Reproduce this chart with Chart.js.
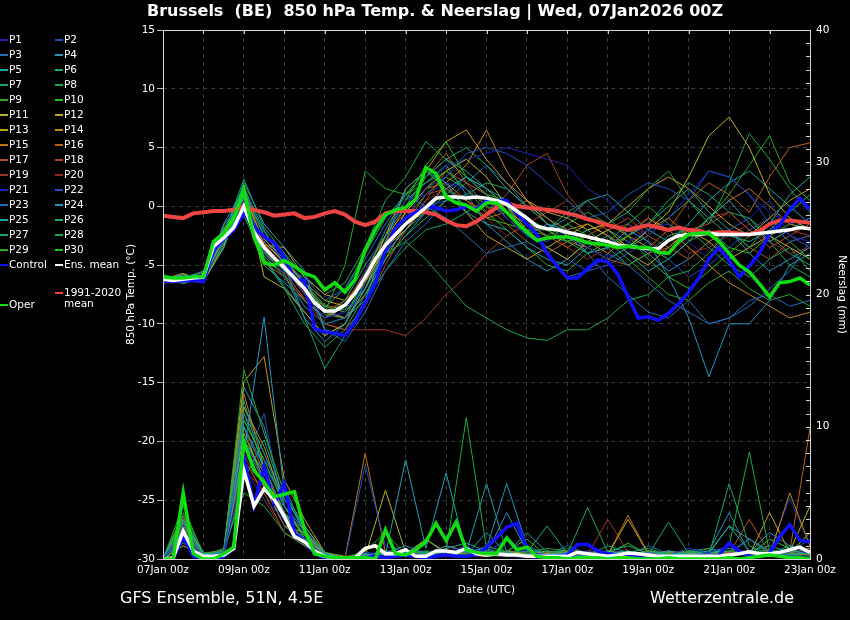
<!DOCTYPE html>
<html>
<head>
<meta charset="utf-8">
<title>Brussels 850 hPa Temp. & Neerslag</title>
<script src="https://cdn.jsdelivr.net/npm/chart.js@4.4.1/dist/chart.umd.min.js"></script>
<style>
  html, body { margin: 0; padding: 0; background: #000; }
  #wrap { position: relative; width: 850px; height: 620px; overflow: hidden; background: #000;
          font-family: 'DejaVu Sans', sans-serif; color: #fff; }
  #chart { position: absolute; left: 0; top: 0; }
  .txt { position: absolute; white-space: pre; line-height: 1; }
  #title { left: 147px; top: 3px; font-size: 16px; font-weight: bold; }
  #srcL { left: 120px; top: 590px; font-size: 16px; }
  #srcR { left: 650px; top: 590px; font-size: 16px; }
  .lg { position: absolute; font-size: 10.5px; line-height: 1; white-space: pre; }
  .lg i { position: absolute; left: -9px; top: 5px; width: 8px; height: 2px; }
</style>
</head>
<body>
<div id="wrap">
  <canvas id="chart" width="850" height="620"></canvas>
  <div id="title" class="txt">Brussels  (BE)  850 hPa Temp. &amp; Neerslag | Wed, 07Jan2026 00Z</div>
  <div id="srcL" class="txt">GFS Ensemble, 51N, 4.5E</div>
  <div id="srcR" class="txt">Wetterzentrale.de</div>
  <div id="legend"></div>
</div>
<script>
// forecast hours (x axis), 6-hourly for the bold lines, 12-hourly for the members
const hours6 = [];
for (let h = 0; h <= 384; h += 6) hours6.push(h);
const hours12 = [];
for (let h = 0; h <= 384; h += 12) hours12.push(h);

// 850 hPa temperature (°C), one row = 48 h
const ensMean = [
  -6.2,-6.3,-6.2,-6.1,-6.0,-3.4,-2.7,-1.8,
   0.0,-2.2,-3.5,-4.4,-5.2,-6.1,-7.0,-8.2,
  -8.9,-8.9,-8.4,-7.4,-6.0,-4.5,-3.3,-2.4,
  -1.5,-0.8,-0.1, 0.7, 0.8, 0.8, 0.7, 0.8,
   0.7, 0.5, 0.2,-0.4,-1.0,-1.7,-1.9,-2.0,
  -2.2,-2.4,-2.6,-2.8,-3.0,-3.3,-3.4,-3.5,
  -3.6,-3.6,-2.9,-2.5,-2.4,-2.4,-2.3,-2.4,
  -2.4,-2.4,-2.4,-2.3,-2.2,-2.1,-2.0,-1.8,
  -1.9];
const oper = [
  -6.0,-6.1,-6.1,-6.0,-6.0,-3.0,-2.3,-1.0,
   1.4,-2.6,-4.8,-5.0,-4.6,-5.1,-5.7,-6.0,
  -7.1,-6.5,-7.3,-6.2,-3.7,-2.0,-0.7,-0.3,
  -0.1, 0.6, 3.3, 2.8, 0.8, 0.3, 0.1,-0.4,
   0.3, 0.3,-0.5,-1.4,-2.2,-2.9,-2.7,-2.6,
  -2.6,-2.8,-3.1,-3.2,-3.3,-3.5,-3.4,-3.5,
  -3.5,-3.9,-4.0,-3.0,-2.4,-2.3,-2.3,-3.0,
  -4.0,-5.0,-5.6,-6.6,-7.7,-6.5,-6.4,-6.1,
  -6.7];
const control = [
  -6.4,-6.4,-6.3,-6.3,-6.4,-3.7,-2.8,-2.0,
  -0.6,-1.7,-2.6,-3.1,-4.3,-6.2,-6.3,-10.4,
  -10.7,-10.8,-11.0,-9.8,-8.2,-6.6,-3.7,-1.8,
  -1.0,-0.5, 0.0,-0.1,-0.4,-0.3, 0.0,-0.3,
   0.5, 0.5, 0.5,-0.6,-1.5,-2.4,-4.0,-5.1,
  -6.1,-6.1,-5.3,-4.6,-4.7,-5.8,-7.7,-9.5,
  -9.4,-9.7,-9.1,-8.3,-7.3,-6.1,-4.5,-3.5,
  -4.6,-6.0,-5.1,-4.0,-2.3,-1.6,-0.3, 0.7,
  -0.3];
const clim = [
  -0.8,-0.9,-1.0,-0.6,-0.5,-0.4,-0.4,-0.3,
   0.0,-0.3,-0.5,-0.8,-0.7,-0.6,-1.0,-0.9,
  -0.6,-0.4,-0.7,-1.3,-1.6,-1.3,-0.6,-0.4,
  -0.4,-0.4,-0.5,-0.7,-1.2,-1.6,-1.7,-1.3,
  -0.7,-0.1, 0.3, 0.0,-0.1,-0.2,-0.3,-0.4,
  -0.6,-0.8,-1.1,-1.3,-1.6,-1.8,-2.0,-1.8,
  -1.6,-1.8,-2.0,-1.8,-2.0,-2.1,-2.3,-2.2,
  -2.2,-2.3,-2.4,-2.1,-1.5,-1.2,-1.2,-1.3,
  -1.4];

// precipitation (mm / 6 h)
const ensMeanRain = [
  0,0.1,2.1,0.6,0.2,0.2,0.3,0.8,
  6.7,4.0,5.3,4.5,3.2,1.7,1.3,0.6,
  0.2,0.1,0.1,0.1,0.8,1.0,0.4,0.4,
  0.7,0.2,0.2,0.6,0.6,0.5,0.8,0.4,
  0.3,0.4,0.3,0.3,0.2,0.2,0.2,0.2,
  0.2,0.5,0.4,0.3,0.2,0.3,0.45,0.4,
  0.3,0.2,0.2,0.2,0.2,0.2,0.2,0.2,
  0.3,0.4,0.55,0.4,0.4,0.5,0.7,0.9,
  0.5];
const operRain = [
  0,0,5.0,0.4,0,0,0.4,0.9,
  8.9,6.7,5.8,4.7,4.9,5.1,2.2,0.4,
  0.2,0.1,0.1,0.1,0.1,0,2.2,0.4,
  0.3,0.7,1.3,2.7,1.4,2.8,0.7,0.5,
  0.4,0.4,1.6,0.7,0.9,0.2,0.1,0.1,
  0,0.1,0.1,0.1,0,0.1,0.1,0,
  0,0,0.1,0,0,0,0,0,
  0.1,0,0.1,0.2,0.3,0.2,0.1,0.1,
  0];
const controlRain = [
  0,0,1.7,0.2,0,0,0.2,0.8,
  7.7,4.0,7.0,4.2,5.7,1.9,1.4,0.4,
  0.1,0,0,0,0.1,0.2,0.1,0.2,
  0.3,0.2,0.1,0.2,0.3,0.2,0.2,0.3,
  0.9,1.6,2.4,2.7,0.8,0.3,0.2,0.2,
  0.3,1.1,1.1,0.6,0.4,0.3,0.3,0.1,
  0,0,0,0,0,0,0.1,0.3,
  1.2,0.6,0.2,0.2,0.4,1.7,2.6,1.4,
  1.3];

// members P1..P30, 12-hourly: h0-120 | h132-252 | h264-384
const memberTemp = [
  [-6.3,-6.0,-5.8,-2.5,0.5,-3.0,-4.5,-7.5,-9.5,-9.0,-5.5, -2.0,0.5,1.0,2.0,1.5,0.5,-1.0,-2.5,-3.0,-2.0,-3.5, -4.5,-3.0,-2.0,-1.5,-3.0,-4.5,-2.0,-1.0,0.5,-2.5,-3.0],
  [-6.5,-6.4,-6.2,-3.0,1.0,-4.0,-6.0,-8.5,-10.0,-9.5,-6.5, -4.0,-1.0,1.5,2.5,4.5,5.0,4.5,3.5,2.0,0.5,-1.0, -0.5,1.0,2.0,1.5,0.5,3.0,2.5,1.0,-1.5,-3.0,-2.5],
  [-6.0,-6.6,-6.0,-2.0,-0.5,-3.5,-5.5,-6.0,-8.0,-7.0,-4.5, -1.5,1.0,0.0,-1.0,-2.5,-4.0,-3.5,-3.0,-4.0,-6.0,-5.5, -4.0,-5.0,-6.5,-8.0,-9.0,-10.0,-9.5,-8.0,-7.5,-8.5,-8.0],
  [-6.2,-5.8,-6.5,-1.5,1.5,-2.0,-5.0,-9.5,-11.5,-10.0,-7.0, -4.0,-2.0,-0.5,1.5,2.5,1.0,-1.0,-2.5,-1.5,-2.5,-4.0, -3.5,-2.0,-3.0,-6.0,-9.5,-14.5,-10.0,-10.0,-8.0,-5.0,-4.0],
  [-6.4,-6.1,-5.5,-2.8,2.0,-1.5,-3.5,-5.5,-10.5,-11.0,-8.0, -3.0,1.5,3.0,2.0,-0.5,-1.5,-2.0,-3.5,-4.5,-5.0,-3.5, -2.5,-4.0,-5.5,-4.5,-3.0,-1.0,0.5,-1.5,-3.0,-2.0,-1.0],
  [-5.8,-6.3,-5.9,-3.5,0.8,-5.0,-6.5,-8.0,-9.5,-8.0,-5.0, -2.5,0.0,2.5,4.0,3.0,1.5,0.0,-1.5,-2.0,-0.5,0.5, -1.0,-2.5,-1.5,0.0,1.5,-0.5,-2.0,-3.5,-1.5,1.0,2.5],
  [-6.1,-6.5,-6.2,-2.2,-0.8,-4.5,-7.0,-10.0,-12.0,-10.5,-7.5, -4.5,-2.5,-1.0,0.5,1.0,2.0,1.5,0.0,-1.5,-3.0,-2.0, -3.5,-5.0,-4.0,-2.5,-2.0,-3.5,-5.0,-6.0,-4.5,-3.5,-5.5],
  [-6.6,-5.9,-6.3,-3.2,1.2,-2.5,-4.0,-7.0,-8.5,-9.0,-7.0, -4.0,-3.0,-4.5,-6.5,-8.5,-9.5,-10.5,-11.2,-11.4,-10.5,-10.5, -9.5,-8.0,-7.5,-6.0,-5.5,-4.0,-2.0,-1.0,-3.0,-5.0,-6.0],
  [-6.3,-6.2,-5.6,-1.8,0.3,-3.8,-5.5,-6.5,-9.0,-5.0,3.0, 1.5,1.0,2.0,3.0,1.5,0.0,-0.5,-2.0,-2.5,-1.5,-2.5, -3.0,-1.5,0.0,-1.5,-2.5,-1.0,1.0,3.5,6.0,2.0,0.5],
  [-6.0,-6.4,-6.1,-2.6,-0.2,-4.2,-6.0,-8.5,-10.0,-9.5,-6.0, -2.0,0.5,3.5,5.5,2.5,1.0,0.5,-1.0,-2.0,-3.0,-4.0, -3.5,-2.5,-4.5,-6.0,-7.0,-5.5,-4.0,-2.5,-1.5,-3.0,-4.5],
  [-6.2,-5.7,-6.4,-3.5,1.8,-6.0,-7.0,-9.0,-11.0,-10.0,-7.0, -3.5,-0.5,1.5,3.0,4.0,2.5,0.0,-2.0,-3.5,-4.5,-3.0, -2.0,-3.5,-2.0,-0.5,2.5,6.0,7.6,5.0,1.0,-1.0,-2.0],
  [-6.5,-6.0,-5.9,-2.3,0.6,-3.0,-4.8,-6.5,-8.0,-8.5,-6.5, -3.5,-2.0,0.0,1.0,-0.5,-2.5,-3.5,-4.5,-3.5,-2.5,-1.5, -2.5,-4.0,-5.0,-3.5,-2.0,-3.0,-4.5,-3.5,-2.5,-3.5,-4.5],
  [-6.1,-6.3,-6.0,-2.9,1.3,-3.3,-3.5,-6.0,-7.5,-8.0,-6.5, -2.5,1.5,3.0,5.5,6.5,4.0,2.0,0.5,-0.5,-1.0,-2.0, -1.5,0.0,1.5,2.5,1.5,0.0,-1.5,-2.5,-1.0,0.5,1.5],
  [-6.4,-6.1,-6.3,-1.9,-0.4,-2.8,-4.5,-6.5,-9.0,-9.5,-7.5, -4.5,-1.5,-0.5,2.0,3.5,6.5,3.0,0.5,-1.5,-2.5,-3.0, -4.0,-2.5,-1.0,-2.0,-3.5,-5.0,-6.5,-7.5,-8.5,-9.5,-9.0],
  [-6.0,-6.0,-5.7,-3.3,0.9,-4.8,-6.0,-8.0,-9.5,-8.5,-5.5, -2.5,-0.5,1.5,2.0,0.5,-1.0,-0.5,0.5,-1.0,-2.0,-1.5, -2.5,-3.5,-2.0,-1.0,-2.5,-1.0,0.5,1.5,0.0,-1.5,-2.0],
  [-6.3,-5.8,-6.2,-2.4,0.2,-3.6,-5.0,-7.5,-8.5,-9.0,-7.0, -3.0,0.0,2.5,4.5,2.0,1.0,-0.5,-1.5,-2.5,-3.5,-2.5, -1.5,-2.5,-3.5,-2.0,0.5,2.0,1.0,-0.5,2.5,5.0,5.4],
  [-6.5,-6.5,-6.1,-3.0,1.5,-3.2,-5.2,-7.0,-10.0,-10.5,-8.5, -5.0,-2.0,0.5,3.0,2.0,0.0,-1.5,-3.0,-4.0,-3.0,-3.5, -4.5,-5.0,-4.0,-3.5,-4.5,-3.0,-2.0,-3.5,-4.5,-3.0,-2.5],
  [-6.2,-6.2,-5.8,-2.1,0.7,-3.9,-5.8,-7.8,-9.0,-8.0,-6.0, -3.0,-1.0,1.0,1.5,0.5,-0.5,1.0,3.5,4.5,1.0,-1.0, -2.0,-1.0,-2.5,-3.5,-2.0,-1.5,-0.5,-2.0,-3.5,-2.5,-1.5],
  [-6.3,-6.4,-6.0,-2.7,0.4,-3.4,-5.4,-8.0,-10.0,-10.5,-10.5, -10.5,-11.0,-9.5,-7.5,-6.0,-4.0,-2.5,-1.5,-0.5,0.5,-1.0, -2.0,-1.5,-3.0,-4.0,-2.5,-1.0,-0.5,-2.0,-3.0,-2.0,-2.5],
  [-6.1,-5.9,-6.2,-2.5,-0.1,-3.1,-4.9,-6.8,-8.5,-8.5,-6.5, -3.5,-1.5,0.5,1.5,0.5,-1.0,-2.5,-1.5,-2.0,-3.5,-4.5, -3.5,-2.0,-1.0,-2.5,-4.0,-3.5,-2.5,-1.5,-3.0,-4.0,-3.5],
  [-6.4,-6.0,-6.4,-2.9,0.8,-3.7,-5.6,-7.2,-9.5,-9.0,-6.5, -3.5,-0.5,1.5,3.5,4.0,4.5,5.0,4.5,4.0,3.5,1.5, 0.5,-1.5,-2.5,-1.0,1.0,3.0,2.5,1.0,-0.5,-1.5,-1.0],
  [-6.2,-6.3,-5.8,-2.0,0.1,-3.3,-4.6,-6.3,-9.0,-9.5,-7.5, -4.0,-2.0,0.0,0.5,1.0,0.5,-1.0,-2.5,-3.5,-4.5,-5.5, -5.0,-4.0,-3.0,-4.5,-6.0,-5.0,-3.5,-2.0,-1.0,-2.5,-3.5],
  [-6.3,-6.1,-6.1,-3.6,1.1,-2.2,-4.3,-6.8,-10.5,-11.5,-9.0, -5.5,-3.0,-1.5,0.5,2.0,3.5,2.0,0.0,-1.5,-2.0,-4.0, -6.0,-7.5,-9.0,-9.5,-8.0,-10.0,-9.5,-8.5,-7.0,-5.5,-3.0],
  [-6.0,-6.5,-6.0,-1.6,0.5,-4.4,-6.8,-9.0,-11.0,-10.0,-6.5, -2.5,0.5,2.0,3.5,1.0,-1.5,-3.0,-4.5,-5.5,-4.5,-3.0, -2.0,-3.0,-4.0,-5.5,-4.5,-3.0,-2.0,-4.0,-5.5,-4.5,-3.5],
  [-6.5,-6.2,-6.4,-2.6,-0.3,-4.0,-5.4,-7.4,-8.8,-9.5,-8.0, -4.5,-2.5,-0.5,1.0,2.5,1.5,0.5,-1.0,-2.0,-1.0,0.5, 1.0,-0.5,-2.0,-3.0,-1.5,0.5,2.0,3.0,1.5,0.0,-1.5],
  [-6.1,-6.0,-5.9,-2.2,1.7,-2.7,-4.9,-6.9,-8.6,-7.0,-4.0, -1.0,1.0,2.5,4.0,5.0,3.5,1.5,0.0,-1.0,-2.5,-3.5, -4.5,-3.5,-2.5,-1.0,0.5,-1.0,-2.5,-3.0,-2.0,-0.5,1.0],
  [-6.4,-6.3,-6.5,-3.1,0.0,-4.6,-5.7,-9.5,-13.8,-11.0,-8.0, -5.5,-3.5,-2.0,-1.5,-0.5,0.5,-0.5,-1.5,-2.5,-3.0,-2.0, -1.5,-2.5,-1.5,0.5,2.0,1.0,-0.5,-1.0,-2.5,-4.0,-5.0],
  [-6.2,-6.4,-6.2,-2.4,2.3,-1.8,-4.0,-6.0,-7.5,-6.5,-3.5, 0.5,2.5,5.5,4.0,2.5,1.5,0.0,-2.5,-3.0,-1.5,-0.5, -1.5,-0.5,1.5,3.0,0.5,-1.5,2.0,6.2,4.0,1.5,-0.5],
  [-6.3,-5.9,-6.0,-2.8,0.6,-3.6,-5.2,-7.0,-9.2,-9.5,-6.5, -3.0,-1.5,1.0,2.5,1.5,-0.5,-2.0,-3.5,-5.0,-5.5,-4.0, -3.0,-4.5,-6.0,-7.5,-8.0,-6.5,-5.5,-7.0,-8.0,-7.5,-8.5],
  [-6.1,-6.2,-6.3,-2.3,0.9,-3.0,-4.7,-6.6,-8.4,-8.8,-6.0, -2.0,1.0,3.0,1.5,0.0,-1.0,-1.5,-2.0,-2.0,-3.0,-2.5, -3.5,-2.5,-3.5,-4.5,-3.0,-2.0,-3.5,-4.0,-2.5,-1.5,-2.0]
];
const memberRain = [
  [0,2.0,0.1,0.3,7.0,4.5,3.0,1.5,0.2,0,0.5, 0.2,0.3,0.1,0.5,1.0,0.3,0.2,0.1,0,0.2,0.5, 0.3,0.1,0,0.2,0.1,0.5,1.0,0.3,0.2,0.8,0.4],
  [0,1.5,0.2,0.5,9.0,6.0,2.5,1.0,0.1,0,7.1, 1.0,0.5,0.2,0.3,0.8,0.5,1.5,0.5,0.3,0.2,0.1, 0.5,0.2,0.1,0.3,0.8,0.4,0.2,0.6,0.3,0.5,1.5],
  [0,2.5,0.3,0.2,11.0,8.0,4.0,1.8,0.3,0.1,0.2, 0.1,0.5,0.3,1.0,0.5,0.2,0.4,0.2,0.1,0.3,0.2, 0.1,0.3,0.5,0.2,0.1,0.2,0.4,1.5,0.5,0.3,0.2],
  [0,1.8,0.2,0.6,8.0,18.3,5.0,2.0,0.4,0,0.3, 0.5,1.0,0.4,0.2,0.6,0.8,5.7,1.0,0.3,0.4,0.2, 0.5,0.3,0.2,0.6,0.3,0.4,0.8,0.5,2.0,1.0,0.6],
  [0,3.0,0.4,0.4,10.0,7.0,3.5,1.2,0.2,0,0.1, 0.3,7.5,0.8,6.5,0.5,5.7,0.5,0.3,0.2,0.5,0.3, 0.4,0.6,0.3,0.2,0.5,0.3,0.2,0.6,0.4,0.3,0.5],
  [0,2.2,0.1,0.3,6.0,9.0,4.5,2.5,0.5,0.1,0.2, 0.2,0.4,0.3,0.8,1.2,0.6,0.4,2.0,0.5,0.2,0.3, 0.6,1.0,0.4,0.3,0.2,0.5,2.5,0.6,0.4,1.0,0.5],
  [0,1.2,0.3,0.2,12.0,6.5,3.0,1.5,0.1,0,0.4, 0.3,0.2,0.5,0.4,0.3,1.0,0.5,0.2,0.6,0.4,3.9, 0.5,0.3,0.6,0.4,0.2,0.3,5.7,1.0,0.3,0.6,0.4],
  [0,2.8,0.2,0.8,5.0,4.0,2.0,1.0,0.3,0.1,0.3, 0.4,0.6,0.2,0.5,10.7,0.8,0.3,0.5,0.8,0.6,0.3, 1.0,0.5,0.8,0.3,0.6,0.4,1.0,8.1,0.5,0.3,0.6],
  [0,3.5,0.5,0.5,14.3,9.5,5.0,2.5,0.4,0.1,0.6, 2.0,0.3,0.6,0.2,0.4,0.3,0.2,0.4,0.3,0.8,0.4, 0.3,0.5,0.2,0.6,0.4,0.8,0.3,0.5,0.7,0.4,2.0],
  [0,4.0,0.3,0.6,10.5,7.5,4.0,1.5,0.2,0,0.1, 0.3,0.2,0.4,0.6,0.5,0.3,0.6,1.5,0.2,0.3,0.5, 0.4,1.2,0.3,0.5,0.2,0.4,0.6,0.3,1.5,0.8,0.3],
  [0,1.0,0.2,0.4,9.5,6.0,3.5,1.0,0.1,0,0.2, 5.2,0.5,0.3,1.0,0.6,0.4,0.3,0.2,0.4,0.3,0.2, 0.6,0.3,0.5,0.2,0.4,0.3,0.2,0.5,0.4,0.6,4.0],
  [0,2.0,0.1,0.2,8.5,5.5,2.5,2.0,0.3,0.1,0.2, 0.6,0.3,1.5,0.4,0.3,0.2,0.5,0.3,0.6,0.4,0.3, 0.3,3.0,0.4,0.3,0.5,0.2,0.4,0.3,3.5,0.5,0.8],
  [0,2.5,0.4,0.7,13.4,15.3,6.0,3.0,0.5,0.2,0.3, 0.4,0.2,0.3,0.5,0.3,0.6,0.4,0.3,0.2,0.5,0.3, 0.5,0.4,0.3,0.6,0.3,0.5,0.3,0.4,0.2,0.6,0.5],
  [0,1.5,0.3,0.5,11.5,8.5,4.0,1.8,0.2,0,0.4, 0.3,0.5,0.4,0.2,0.5,0.3,0.6,0.4,0.3,0.2,0.5, 0.4,0.3,0.6,0.4,0.5,0.3,0.4,0.6,0.3,5.0,1.0],
  [0,3.2,0.2,0.3,12.5,7.0,3.0,1.5,0.3,0.1,8.0, 0.5,0.3,0.2,0.4,0.6,0.3,0.2,0.5,0.4,0.3,0.2, 0.3,3.3,0.4,0.2,0.3,0.5,0.4,0.3,0.6,0.4,0.3],
  [0,2.7,0.3,0.4,10.0,6.5,3.5,2.2,0.4,0.1,0.2, 0.3,0.6,0.4,0.3,0.2,0.5,0.3,0.4,0.3,0.6,0.4, 0.2,0.5,0.3,0.4,0.6,0.3,0.5,0.4,0.3,0.6,9.9],
  [0,1.8,0.2,0.6,7.5,5.0,2.0,1.0,0.1,0,0.3, 0.2,0.4,0.3,0.5,0.4,0.2,0.3,0.5,0.4,0.3,0.2, 0.5,0.3,0.4,0.6,0.3,0.2,0.4,3.0,0.4,0.3,0.5],
  [0,2.3,0.4,0.3,9.0,6.0,3.0,1.5,0.2,0,0.2, 0.3,0.2,0.4,0.3,0.5,0.4,0.2,0.3,0.5,0.4,0.3, 0.4,0.6,0.3,0.5,0.4,0.3,0.5,0.6,0.4,0.5,2.0],
  [0,1.6,0.2,0.5,6.5,5.5,2.5,1.2,0.1,0,0.1, 0.1,0.2,0.3,0.2,0.4,0.3,0.5,0.2,0.3,0.4,0.3, 3.0,0.5,0.3,0.4,0.3,0.2,0.4,0.3,0.5,0.3,0.4],
  [0,2.0,0.3,0.4,8.0,4.5,2.0,1.0,0.2,0.1,0.3, 0.2,0.3,0.2,0.4,0.3,0.5,0.3,0.4,0.2,0.3,0.5, 0.3,0.4,0.2,0.3,0.5,0.4,0.3,0.5,0.4,0.6,0.3],
  [0,2.6,0.2,0.4,9.5,7.0,4.5,2.5,0.3,0.1,0.4, 0.5,0.3,0.6,0.4,0.3,0.6,0.4,0.3,0.5,0.4,0.6, 0.4,0.3,0.5,0.6,0.4,0.3,0.5,0.4,0.6,4.6,1.0],
  [0,1.4,0.3,0.6,7.0,11.0,3.0,1.5,0.2,0,0.5, 0.3,0.5,0.3,0.6,0.4,0.5,0.3,0.2,0.4,0.5,0.3, 0.6,0.5,0.3,0.4,0.2,0.5,0.3,0.6,0.4,0.3,0.5],
  [0,3.3,0.4,0.5,10.5,7.5,5.5,2.0,0.4,0.1,0.3, 0.4,0.6,0.5,0.3,0.8,0.4,0.6,0.5,0.3,1.0,0.4, 0.5,0.3,1.0,0.4,0.6,0.8,0.5,0.4,0.6,0.3,0.5],
  [0,2.1,0.3,0.3,13.0,10.0,4.0,2.2,0.3,0,0.2, 0.4,0.5,0.6,0.4,0.5,0.4,3.5,0.6,0.4,0.3,0.5, 0.4,0.6,0.3,0.5,0.4,0.6,3.5,0.4,0.5,0.3,0.6],
  [0,2.9,0.2,0.4,9.0,6.5,3.5,1.8,0.2,0.1,0.3, 0.6,0.4,1.5,0.5,0.3,2.0,0.4,0.6,0.5,0.3,0.4, 0.6,0.4,0.5,0.3,0.6,0.4,2.5,1.5,0.6,0.4,0.3],
  [0,2.4,0.3,0.5,11.0,7.0,5.0,2.0,0.3,0.1,0.4, 0.3,0.4,0.5,0.3,0.4,0.6,0.3,0.5,2.5,0.4,0.3, 0.5,0.3,0.6,0.4,0.5,0.3,0.4,0.6,1.0,0.5,0.4],
  [0,1.9,0.3,0.6,8.5,6.0,3.0,1.5,0.3,0.1,0.2, 0.3,0.5,0.4,0.5,0.3,0.4,0.3,0.4,0.5,0.6,0.3, 0.4,0.5,0.3,2.8,0.4,0.6,0.5,0.3,0.4,0.6,0.5],
  [0,3.0,0.4,0.3,10.0,5.5,4.0,1.6,0.2,0,0.3, 0.4,0.3,0.6,0.5,0.4,0.3,0.5,0.4,0.3,0.5,0.4, 0.3,0.4,0.5,0.3,0.6,0.4,0.5,1.5,0.4,0.3,0.6],
  [0,2.2,0.2,0.5,9.0,6.5,3.5,1.9,0.3,0.1,0.3, 0.5,0.3,0.4,0.3,0.5,0.4,0.3,0.6,0.4,0.3,0.6, 0.5,0.3,0.6,0.4,0.3,0.5,0.6,0.4,0.5,0.3,0.4],
  [0,2.7,0.3,0.4,11.5,8.0,4.5,2.5,0.4,0.1,0.2, 0.3,0.5,0.3,0.6,0.4,0.5,0.3,0.4,0.6,0.4,0.3, 0.4,0.6,0.3,0.5,0.4,0.3,0.5,0.3,0.6,0.4,0.5]
];

// colour cycle of the members (P21..P30 repeat P1..P10)
const memberColors = ['#1c22b4','#1f4fbc','#1f6fb8','#1f95c2','#19a3ad','#19a987','#19a566','#19a848','#22aa22','#22c014',
                      '#b4b414','#c2a814','#c29a14','#c28a14','#c27214','#b86214','#b05214','#a84420','#a03424','#922424'];
const colControl = '#1010ff';
const colMean = '#ffffff';
const colClim = '#f04444';
const colOper = '#10dd10';

function pts(hours, vals) {
  return vals.map((v, i) => ({ x: hours[i], y: v }));
}

const datasets = [];
memberTemp.forEach((vals, i) => {
  datasets.push({ label: 'P' + (i + 1), data: pts(hours12, vals), yAxisID: 'y',
    borderColor: memberColors[i % 20], borderWidth: 1, order: 10 });
});
memberRain.forEach((vals, i) => {
  datasets.push({ label: 'P' + (i + 1) + ' rain', data: pts(hours12, vals), yAxisID: 'y2',
    borderColor: memberColors[i % 20], borderWidth: 1, order: 10 });
});
datasets.push({ label: '1991-2020 mean', data: pts(hours6, clim), yAxisID: 'y', borderColor: colClim, borderWidth: 4, order: 4 });
datasets.push({ label: 'Control', data: pts(hours6, control), yAxisID: 'y', borderColor: colControl, borderWidth: 3.5, order: 3 });
datasets.push({ label: 'Control rain', data: pts(hours6, controlRain), yAxisID: 'y2', borderColor: colControl, borderWidth: 3.5, order: 3 });
datasets.push({ label: 'Ens. mean', data: pts(hours6, ensMean), yAxisID: 'y', borderColor: colMean, borderWidth: 3.5, order: 2 });
datasets.push({ label: 'Ens. mean rain', data: pts(hours6, ensMeanRain), yAxisID: 'y2', borderColor: colMean, borderWidth: 3.5, order: 2 });
datasets.push({ label: 'Oper', data: pts(hours6, oper), yAxisID: 'y', borderColor: colOper, borderWidth: 3.5, order: 1 });
datasets.push({ label: 'Oper rain', data: pts(hours6, operRain), yAxisID: 'y2', borderColor: colOper, borderWidth: 3.5, order: 1 });

// frame and inward ticks round the plot
const framePlugin = {
  id: 'frame',
  afterDraw(chart) {
    const { ctx, chartArea: a, scales } = chart;
    ctx.save();
    ctx.strokeStyle = '#d8d8d8';
    ctx.lineWidth = 1;
    ctx.strokeRect(a.left + 0.5, a.top + 0.5, a.right - a.left, a.bottom - a.top);
    ctx.beginPath();
    for (let h = 24; h < 384; h += 24) {
      const x = Math.round(scales.x.getPixelForValue(h)) + 0.5;
      ctx.moveTo(x, a.top); ctx.lineTo(x, a.top + 4);
    }
    for (let mm = 1; mm < 40; mm++) {
      const y = Math.round(scales.y2.getPixelForValue(mm)) + 0.5;
      ctx.moveTo(a.right - 4, y); ctx.lineTo(a.right, y);
    }
    ctx.stroke();
    ctx.restore();
  }
};

function dateLabel(h) {
  const day = 7 + h / 24;
  return (day < 10 ? '0' : '') + day + 'Jan 00z';
}

Chart.defaults.color = '#ffffff';
Chart.defaults.font.family = "'DejaVu Sans', sans-serif";
Chart.defaults.font.size = 10.5;

new Chart(document.getElementById('chart'), {
  type: 'line',
  data: { datasets: datasets },
  options: {
    responsive: false,
    animation: false,
    events: [],
    layout: { padding: { left: 123, top: 30, right: 0, bottom: 20 } },
    elements: { point: { radius: 0 }, line: { tension: 0 } },
    plugins: { legend: { display: false }, tooltip: { enabled: false } },
    scales: {
      x: {
        type: 'linear', min: 0, max: 384,
        ticks: { stepSize: 24, autoSkip: false, maxRotation: 0, padding: 5, color: '#fff',
                 callback: (v) => (v % 48 === 0 ? dateLabel(v) : '') },
        grid: { color: '#3a3a3a', drawTicks: false },
        border: { display: false, dash: [4, 4] },
        title: { display: true, text: 'Date (UTC)', color: '#fff', padding: { top: 1, bottom: 3 } },
        afterFit: (s) => { s.height = 41; }
      },
      y: {
        position: 'left', min: -30, max: 15,
        ticks: { stepSize: 5, color: '#fff', padding: 2 },
        grid: { color: '#3a3a3a', tickColor: '#bbbbbb', tickLength: 6, tickBorderDash: [] },
        border: { display: false, dash: [4, 4] },
        title: { display: true, text: '850 hPa Temp. (°C)', color: '#fff', padding: { top: 2, bottom: 0 } },
        afterFit: (s) => { s.width = 40; }
      },
      y2: {
        position: 'right', min: 0, max: 40,
        ticks: { stepSize: 10, color: '#fff', padding: 6 },
        grid: { drawOnChartArea: false, drawTicks: false },
        border: { display: false },
        title: { display: true, text: 'Neerslag (mm)', color: '#fff', padding: { top: 2, bottom: 0 } },
        afterFit: (s) => { s.width = 40; }
      }
    }
  },
  plugins: [framePlugin]
});

// legend in two columns, as in the original graphic
const legend = document.getElementById('legend');
function addLegend(text, color, left, top) {
  const d = document.createElement('div');
  d.className = 'lg';
  d.style.left = left + 'px';
  d.style.top = top + 'px';
  d.innerHTML = '<i style="background:' + color + '"></i>' + text;
  legend.appendChild(d);
}
for (let n = 1; n <= 30; n++) {
  const row = Math.floor((n - 1) / 2);
  const left = n % 2 === 1 ? 9 : 64;
  addLegend('P' + n, memberColors[(n - 1) % 20], left, 34 + row * 15);
}
addLegend('Control', colControl, 9, 259);
addLegend('Ens. mean', colMean, 64, 259);
addLegend('1991-2020\nmean', colClim, 64, 287);
addLegend('Oper', colOper, 9, 299);
</script>
</body>
</html>
